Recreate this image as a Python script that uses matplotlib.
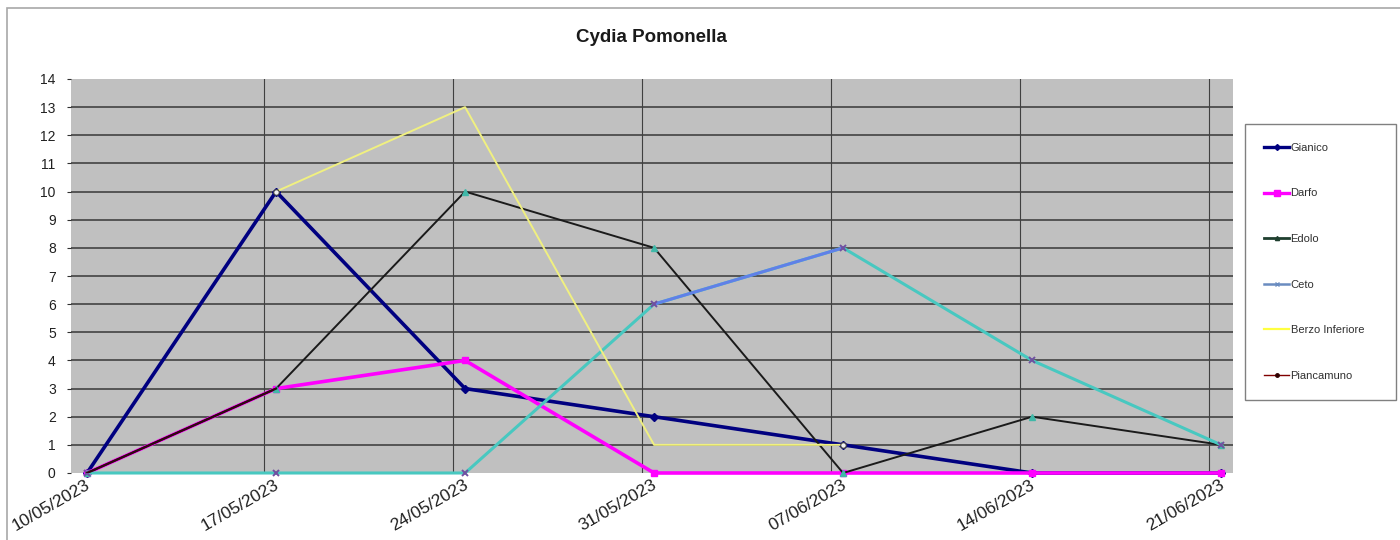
import numpy as np
import matplotlib
matplotlib.use('Agg')
import matplotlib.pyplot as plt
from matplotlib.lines import Line2D
from matplotlib.patches import Rectangle

plt.rcParams['font.family'] = ['Liberation Sans', 'DejaVu Sans']

# ---------------- data ----------------
dates = ['10/05/2023', '17/05/2023', '24/05/2023', '31/05/2023',
         '07/06/2023', '14/06/2023', '21/06/2023']
gianico = [0, 10, 3, 2, 1, 0, 0]
darfo = [0, 3, 4, 0, 0, 0, 0]
edolo = [0, 3, 10, 8, 0, 2, 1]
ceto = [0, 0, 0, 6, 8, 4, 1]
berzo_inferiore = [np.nan, 10, 13, 1, 1, np.nan, np.nan]
piancamuno = [0, 3, np.nan, np.nan, np.nan, np.nan, np.nan]
y_ticks = list(range(0, 15))

# ---------------- figure ----------------
W, H = 1400, 540
fig = plt.figure(figsize=(W / 100, H / 100), dpi=100)
fig.patch.set_facecolor('white')

# outer chart frame
fig.patches.append(Rectangle((7 / W, -0.1), 1.2, (H - 8) / H + 0.1,
                             transform=fig.transFigure, fill=False,
                             edgecolor='#a8a8a8', lw=1.2))

ax = fig.add_axes([71 / W, 67 / H, (1233 - 71) / W, (473 - 79) / H])
ax.set_facecolor('#c0c0c0')
x = np.arange(len(dates))

ax.set_xlim(-0.085, 6.063)
ax.set_ylim(0, 14)

# gridlines
for v in y_ticks[1:-1]:
    ax.axhline(v, color='#383838', lw=1.1, zorder=1)
grid_shift = -0.066
for i in x[1:]:
    ax.axvline(i + grid_shift, color='#404040', lw=0.8, zorder=1)

for s in ax.spines.values():
    s.set_visible(False)

# series (Excel drawing order)
ax.plot(x, gianico, color='#000080', lw=2.6, marker='D', ms=4,
        mfc='#000080', mec='#000080', zorder=3, clip_on=False)
ax.plot(x, darfo, color='#ff00ff', lw=2.6, marker='s', ms=5,
        mfc='#ff00ff', mec='#ff00ff', zorder=4, clip_on=False)
ax.plot(x, edolo, color='#1a1a1a', lw=1.4, marker='^', ms=5,
        mfc='#40b8a8', mec='#40b8a8', zorder=5, clip_on=False)
ax.plot(x, ceto, color='#48c8c0', lw=2.2, zorder=6, clip_on=False)
ax.plot(x[3:5], ceto[3:5], color='#6080e8', lw=2.2, zorder=6, clip_on=False)
ax.plot(x, ceto, ls='none', marker='x', ms=5, mew=1.4, color='#7050a0',
        zorder=7, clip_on=False)
ax.plot(x, berzo_inferiore, color='#f0f080', lw=1.4, zorder=8)
ax.plot(x[[1, 4]], np.array(berzo_inferiore)[[1, 4]], ls='none', marker='o',
        ms=4, mfc='#f0f0f0', mec='#404040', mew=0.8, zorder=9)
ax.plot(x, piancamuno, color='#300810', lw=1.6, zorder=9)

# ticks
ax.set_yticks(y_ticks)
ax.set_yticklabels([str(v) for v in y_ticks], fontsize=10, color='#202020')
ax.tick_params(axis='y', length=3, width=0.8, color='#303030', pad=8)
ax.set_xticks(x - 0.01)
ax.set_xticklabels(dates, fontsize=12.5, color='#202020', rotation=30,
                   ha='right', va='top', rotation_mode='anchor')
ax.tick_params(axis='x', length=0, pad=3)

# title
fig.text(651 / W, 1 - 37 / H, 'Cydia Pomonella', ha='center', va='center',
         fontsize=13.5, fontweight='bold', color='#1a1a1a')

# legend
handles = [
    Line2D([], [], color='#000080', lw=2.4, marker='D', ms=3),
    Line2D([], [], color='#ff00ff', lw=2.4, marker='s', ms=4),
    Line2D([], [], color='#1f3f2f', lw=2.0, marker='^', ms=3),
    Line2D([], [], color='#6a8cc0', lw=1.8, marker='x', ms=3),
    Line2D([], [], color='#ffff40', lw=1.6),
    Line2D([], [], color='#800000', lw=1.0, marker='o', ms=2.5,
           mfc='#300000', mec='#300000'),
]
labels = ['Gianico', 'Darfo', 'Edolo', 'Ceto', 'Berzo Inferiore', 'Piancamuno']
leg = fig.legend(handles, labels, loc='upper left',
                 bbox_to_anchor=(1245 / W, 0, 151 / W, 1 - 124 / H),
                 mode='expand', fontsize=8, frameon=True, fancybox=False,
                 edgecolor='#808080', framealpha=1, borderaxespad=0,
                 labelspacing=3.2, borderpad=1.7, handlelength=2.3,
                 handletextpad=0.1, labelcolor='#303030')
leg.get_frame().set_linewidth(1.0)

fig.savefig('out.png', dpi=100, facecolor='white')
